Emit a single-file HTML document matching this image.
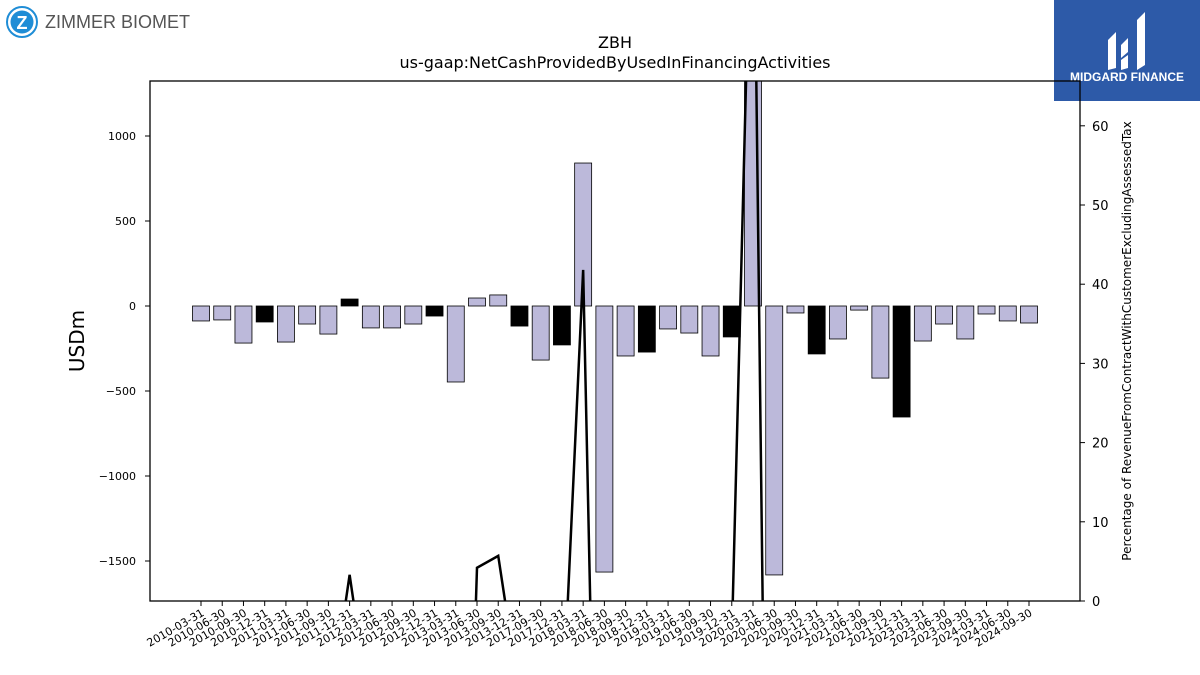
<!DOCTYPE html>
<html><head><meta charset="utf-8"><style>
body{margin:0;background:#fff;font-family:"DejaVu Sans",sans-serif;overflow:hidden}
svg{display:block}
</style></head><body>
<svg id="chart" width="1200" height="675" xmlns="http://www.w3.org/2000/svg" font-family="DejaVu Sans, sans-serif">
<g>
<circle cx="22" cy="22" r="15" fill="none" stroke="#1f8dd6" stroke-width="2"/>
<circle cx="22" cy="22" r="11.5" fill="#1f8dd6"/>
<text x="22" y="29" font-size="18" font-weight="bold" fill="#fff" text-anchor="middle" font-family="Liberation Sans, sans-serif">Z</text>
<text x="45" y="28" font-size="18" fill="#555" font-family="Liberation Sans, sans-serif">ZIMMER BIOMET</text>
</g>
<g>
<rect x="1054" y="0" width="146" height="101" fill="#2d5aa8"/>
<path d="M1108 40 L1116 32 L1116 68 L1108 70 Z M1121 45 L1128 38 L1128 52 L1121 58 Z M1121 60 L1128 55 L1128 68 L1121 70 Z M1137 20 L1145 12 L1145 65 L1137 70 Z" fill="#fff"/>
<text x="1127" y="81" font-size="12" font-weight="bold" fill="#fff" text-anchor="middle" font-family="Liberation Sans, sans-serif">MIDGARD FINANCE</text>
</g>
<text x="615" y="48" font-size="16" text-anchor="middle">ZBH</text>
<text x="615" y="68" font-size="16" text-anchor="middle">us-gaap:NetCashProvidedByUsedInFinancingActivities</text>
<text transform="translate(84,341) rotate(-90)" font-size="20" text-anchor="middle">USDm</text>
<text transform="translate(1131,341) rotate(-90)" font-size="12" text-anchor="middle">Percentage of RevenueFromContractWithCustomerExcludingAssessedTax</text>
<defs><clipPath id="plotclip"><rect x="150" y="81" width="930" height="520"/></clipPath></defs>
<g id="bars" clip-path="url(#plotclip)"></g>
<g id="line" clip-path="url(#plotclip)"></g>
<rect x="150" y="81" width="930" height="520" fill="none" stroke="#000" stroke-width="1.3"/>
<g id="axes"></g>
</svg>
<script>
const categories=["2010-03-31","2010-06-30","2010-09-30","2010-12-31","2011-03-31","2011-06-30","2011-09-30","2011-12-31","2012-03-31","2012-06-30","2012-09-30","2012-12-31","2013-03-31","2013-06-30","2013-09-30","2013-12-31","2017-09-30","2017-12-31","2018-03-31","2018-06-30","2018-09-30","2018-12-31","2019-03-31","2019-06-30","2019-09-30","2019-12-31","2020-03-31","2020-06-30","2020-09-30","2020-12-31","2021-03-31","2021-06-30","2021-09-30","2021-12-31","2023-03-31","2023-06-30","2023-09-30","2024-03-31","2024-06-30","2024-09-30"];
const values=[-88,-82,-218,-94,-212,-106,-165,41,-129,-129,-106,-59,-447,47,65,-118,-318,-229,841,-1565,-294,-271,-135,-159,-294,-182,1400,-1582,-41,-282,-194,-24,-424,-653,-206,-106,-194,-47,-88,-100];
const highlighted=[3,7,11,15,17,21,25,29,33];
const pctValues=[-15,-15,-15,-15,-15,-15,-15,3.3,-15,-15,-15,-15,-80,4.2,5.7,-12,-15,-16,41.8,-84,-15,-15,-15,-15,-15,-5,100,-120,-15,-15,-15,-15,-15,-15,-15,-15,-15,-15,-15,-15];
const leftTicks=[-1500,-1000,-500,0,500,1000];
const rightTicks=[0,10,20,30,40,50,60];
const NS="http://www.w3.org/2000/svg";
const x=i=>201+i*(1029-201)/(categories.length-1);
const y=v=>306-v*0.17;
const y2=v=>601-v*7.92;
function mk(t,a,p){const e=document.createElementNS(NS,t);for(const k in a)e.setAttribute(k,a[k]);p.appendChild(e);return e;}
const bars=document.getElementById('bars'),line=document.getElementById('line'),axes=document.getElementById('axes');
values.forEach((v,i)=>{
 const r=mk('rect',{x:x(i)-8.5,y:Math.min(y(v),y(0)),width:17,height:Math.abs(y(v)-y(0)),fill:highlighted.includes(i)?'#000':'#bcb9da',stroke:'#000','stroke-width':0.8},bars);
 
 
});
const pl=mk('polyline',{points:pctValues.map((v,i)=>x(i)+','+y2(v)).join(' '),fill:'none',stroke:'#000','stroke-width':2.5},line);


leftTicks.forEach(t=>{
 mk('line',{x1:145,x2:150,y1:y(t),y2:y(t),stroke:'#000'},axes);
 const tx=mk('text',{x:136,y:y(t)+4,'font-size':11,'text-anchor':'end'},axes);
 tx.textContent=t<0?'\u2212'+Math.abs(t):t;
 
 
});
rightTicks.forEach(t=>{
 mk('line',{x1:1080,x2:1085,y1:y2(t),y2:y2(t),stroke:'#000'},axes);
 const tx=mk('text',{x:1092,y:y2(t)+5,'font-size':13},axes);
 tx.textContent=t;
 
 
});
categories.forEach((c,i)=>{
 mk('line',{x1:x(i),x2:x(i),y1:601,y2:606,stroke:'#000'},axes);
 const tx=mk('text',{transform:`translate(${x(i)+4},${615}) rotate(-30)`,'font-size':11,'text-anchor':'end'},axes);
 tx.textContent=c;
 
 
});
</script>
</body></html>
